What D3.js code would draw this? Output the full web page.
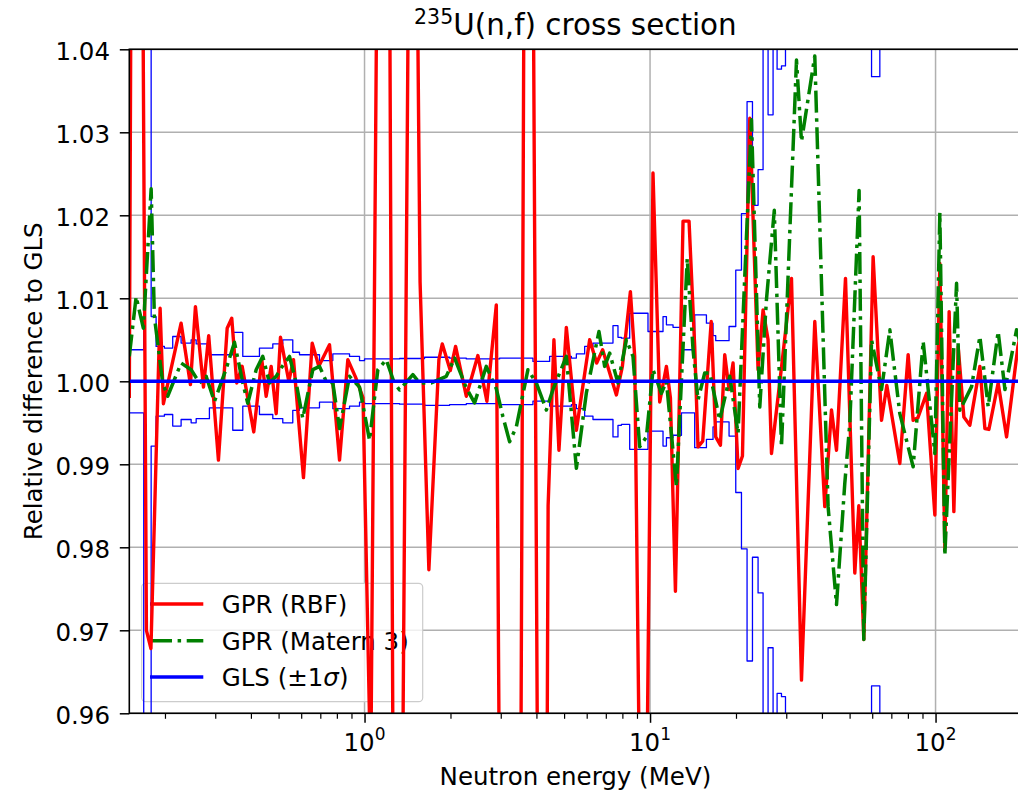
<!DOCTYPE html>
<html>
<head>
<meta charset="utf-8">
<script src="https://cdn.jsdelivr.net/npm/d3@7"></script>
<style>
  body { margin: 0; background: #fff; }
  svg { display: block; }
  text { font-family: "DejaVu Sans", sans-serif; fill: #000; }
</style>
</head>
<body>
<svg id="chart" width="1018" height="791"></svg>
<script>
// ---- GPR (RBF kernel): ratio to GLS vs neutron energy (MeV) ----
const rbfEnergy = [0.150, 0.1582, 0.1722, 0.1786, 0.1923, 0.1975, 0.2278, 0.2456, 0.2557, 0.2728,
  0.2846, 0.3078, 0.3303, 0.3427, 0.3568, 0.3727, 0.4093, 0.4366, 0.4523, 0.4710,
  0.4904, 0.5077, 0.5429, 0.5639, 0.6111, 0.6557, 0.6915, 0.7540, 0.8174, 0.8740,
  0.9300, 0.9880, 1.0513, 1.1808, 1.2947, 1.4707, 1.5650, 1.6802, 1.8216, 1.8723,
  1.9968, 2.0841, 2.2722, 2.4947, 2.6826, 2.8944, 3.3017, 3.7350, 4.2157, 4.3955,
  4.6060, 4.7965, 5.0913, 5.5206, 6.1451, 6.5027, 6.8241, 7.6234, 8.0003, 8.5344,
  8.8357, 9.4778, 10.241, 10.810, 11.412, 11.786, 12.271, 13.049, 13.696, 14.335,
  14.722, 15.295, 16.379, 16.985, 17.641, 18.264, 18.913, 19.533, 20.337, 21.070,
  22.352, 23.898, 24.882, 25.906, 26.627, 28.935, 31.289, 33.918, 37.759, 40.934,
  43.208, 44.988, 48.369, 52.140, 53.850, 56.067, 60.44, 64.68, 67.51, 74.97,
  80.17, 83.46, 86.69, 93.01, 99.44, 103.53, 107.79, 111.59, 115.91, 120.00,
  125.65, 131.88, 142.98, 148.87, 153.76, 165.69, 177.32, 194.3, 200];
const rbfRatio = [0.998, 1.20, 0.970, 0.9678, 1.0088, 0.9973, 1.0070, 0.9996, 1.0090, 0.9993,
  1.0055, 0.9905, 1.0064, 1.0076, 0.9998, 1.0018, 0.9939, 1.0026, 0.9982, 1.0018,
  0.9961, 1.0053, 1.0000, 1.0026, 0.9884, 1.0046, 1.0018, 1.0044, 0.9905, 1.0026,
  1.0005, 0.998, 0.952, 1.18, 0.85, 1.115, 1.012, 0.9773, 1.0026, 1.0045,
  1.0013, 1.0042, 0.9982, 1.0031, 0.9976, 1.0092, 0.70, 1.17, 0.83, 0.985,
  1.005, 0.9917, 1.0065, 0.9941, 1.005, 1.0022, 1.0038, 0.99835, 1.0018, 1.0108,
  1.003, 0.91, 1.0251, 0.9975, 1.0018, 0.998, 0.9747, 1.0193, 1.0193, 1.0042,
  0.9921, 0.9928, 1.0072, 0.9933, 0.9923, 1.0032, 0.999, 1.0022, 0.9895, 0.991,
  1.0317, 1.0014, 1.0086, 1.0050, 0.9913, 1.002, 1.0124, 0.9640, 1.0072, 0.9849,
  0.99655, 0.9917, 1.0124, 0.9769, 0.985, 0.9689, 1.015, 0.9953, 0.9995, 0.9901,
  1.0032, 0.9953, 0.9956, 0.99855, 0.9839, 1.0142, 0.9799, 1.0084, 0.9843, 1.0042,
  0.9957, 0.9947, 1.0018, 0.9943, 0.9942, 0.9998, 0.9933, 1.0042, 1.006];

// ---- GPR (Matern 3 kernel) ----
const maternEnergy = [0.150, 0.1585, 0.1680, 0.1789, 0.1836, 0.1964, 0.2044, 0.2278, 0.2470, 0.2640,
  0.2788, 0.2980, 0.3276, 0.3503, 0.3746, 0.3900, 0.4173, 0.4401, 0.4647, 0.4904,
  0.5106, 0.5460, 0.5763, 0.6077, 0.6590, 0.6954, 0.7340, 0.7744, 0.8174, 0.8860,
  0.9605, 1.0412, 1.1133, 1.1914, 1.2709, 1.3264, 1.4767, 1.5587, 1.7130, 1.9336,
  2.0674, 2.2722, 2.4292, 2.6696, 2.8944, 3.0527, 3.2223, 3.4010, 3.7350, 3.9969,
  4.3339, 4.5692, 5.0913, 5.5206, 5.9835, 6.6236, 6.9350, 7.2207, 7.7213, 8.2634,
  8.7152, 9.1989, 9.7097, 10.241, 10.959, 11.412, 12.370, 13.498, 14.146, 14.722,
  15.542, 16.183, 17.541, 19.020, 20.337, 22.658, 24.228, 25.567, 27.236, 28.865,
  32.577, 33.918, 37.759, 42.040, 44.988, 48.096, 50.076, 53.98, 56.067, 59.68,
  64.68, 69.16, 74.97, 83.46, 90.49, 99.44, 103.53, 107.79, 118.46, 121.66,
  133.70, 142.98, 152.89, 165.69, 174.99, 192.2, 200];
const maternRatio = [1.003, 1.0102, 1.0064, 1.0232, 1.0078, 0.9998, 0.9982, 1.0022, 1.0014, 0.9998,
  1.0006, 0.99755, 1.0015, 1.0047, 0.9998, 0.99735, 1.0014, 1.003, 0.9998, 1.0006,
  1.0016, 1.003, 0.9998, 0.99554, 1.0014, 1.0018, 1.0000, 0.9998, 0.9943, 1.0006,
  0.9993, 0.9929, 1.0014, 1.0026, 0.9998, 0.99895, 1.0008, 0.9998, 0.9998, 1.0006,
  1.0028, 0.9992, 0.9974, 1.0018, 0.9991, 0.99574, 0.99272, 0.9945, 1.0014, 0.9998,
  0.99654, 0.9990, 1.003, 0.98951, 0.9986, 1.006, 1.0018, 1.0034, 0.9998, 1.005,
  1.003, 0.9921, 0.9933, 1.0014, 0.99855, 1.0000, 0.9873, 1.0148, 1.0038, 0.99775,
  1.0010, 1.001, 0.99534, 1.0006, 0.99373, 1.0315, 0.9969, 1.0098, 1.0206, 0.9921,
  1.0387, 1.0289, 1.0392, 0.9849, 0.9731, 0.9877, 0.9949, 1.0230, 0.9689, 1.005,
  0.999, 1.0062, 0.9961, 0.9897, 1.0048, 0.9913, 1.0203, 0.9790, 1.0118, 0.9965,
  0.99936, 1.0054, 0.99694, 1.006, 0.999, 1.0062, 1.004];

// ---- GLS evaluation: group boundaries (MeV) and relative 1-sigma uncertainty ----
const glsEdges = [0.15, 0.1685, 0.1789, 0.1862, 0.1991, 0.2129, 0.2278, 0.2470, 0.2572, 0.2862,
  0.3455, 0.3746, 0.4285, 0.4772, 0.5172, 0.5606, 0.5918, 0.6954, 0.7744, 0.8860,
  0.9605, 1.0, 1.3264, 1.6229, 1.9862, 2.2722, 2.5973, 2.9724, 3.8888, 4.4490,
  5.3023, 5.5206, 5.9021, 6.3106, 7.4163, 7.7213, 7.9358, 8.4862, 9.8361, 11.103,
  11.412, 12.036, 12.882, 14.335, 15.757, 16.618, 16.985, 18.913, 19.963, 20.902,
  21.868, 22.842, 23.898, 24.882, 25.906, 26.973, 27.860, 28.865, 29.812, 59.68,
  63.80, 200];
const glsSigma = [0.0038, 0.06, 0.0078, 0.0042, 0.0040, 0.0054, 0.0046, 0.0050, 0.0045, 0.0032,
  0.0059, 0.0030, 0.0040, 0.0045, 0.0050, 0.0035, 0.0032, 0.0025, 0.0033, 0.0030,
  0.0025, 0.0027, 0.00275, 0.0029, 0.0028, 0.0027, 0.0027, 0.0028, 0.0024, 0.0030,
  0.0028, 0.0033, 0.0042, 0.0046, 0.0067, 0.0053, 0.0052, 0.0082, 0.0060, 0.0078,
  0.0068, 0.0065, 0.0038, 0.0080, 0.0070, 0.0055, 0.0049, 0.0066, 0.0134, 0.0202,
  0.0337, 0.0212, 0.0255, 0.06, 0.0321, 0.06, 0.0376, 0.0380, 0.06, 0.0367,
  0.06];

// ---- axes ----
const energyDomain = [0.15, 200];
const ratioDomain = [0.96, 1.04];
const yTicks = [0.96, 0.97, 0.98, 0.99, 1.00, 1.01, 1.02, 1.03, 1.04];
const xMajorTicks = [1, 10, 100];
const xMinorTicks = [0.2, 0.3, 0.4, 0.5, 0.6, 0.7, 0.8, 0.9, 2, 3, 4, 5, 6, 7, 8, 9,
  20, 30, 40, 50, 60, 70, 80, 90, 200];
const xTickExponents = ["0", "1", "2"];

const titleText = "U(n,f) cross section";
const titleIsotope = "235";
const xLabel = "Neutron energy (MeV)";
const yLabel = "Relative difference to GLS";
const legendLabels = ["GPR (RBF)", "GPR (Matern 3)", "GLS (\u00b11"];

// ---- layout ----
const plot = { left: 129.3, top: 49.3, right: 1021.5, bottom: 713.3 };
const baseFont = 24.5;
const colors = { rbf: "#ff0000", matern: "#008000", gls: "#0000ff", grid: "#b0b0b0" };

const svg = d3.select("#chart");
const x = d3.scaleLog().domain(energyDomain).range([plot.left, plot.right]);
const y = d3.scaleLinear().domain(ratioDomain).range([plot.bottom, plot.top]);

svg.append("defs").append("clipPath").attr("id", "plotClip")
  .append("rect")
  .attr("x", plot.left).attr("y", plot.top)
  .attr("width", plot.right - plot.left).attr("height", plot.bottom - plot.top);

// grid
const grid = svg.append("g").attr("stroke", colors.grid).attr("stroke-width", 1.5);
grid.selectAll("line.h").data(yTicks).join("line").attr("class", "h")
  .attr("x1", plot.left).attr("x2", plot.right)
  .attr("y1", d => y(d)).attr("y2", d => y(d));
grid.selectAll("line.v").data(xMajorTicks).join("line").attr("class", "v")
  .attr("x1", d => x(d)).attr("x2", d => x(d))
  .attr("y1", plot.top).attr("y2", plot.bottom);

// legend (drawn below the curves)
const legend = svg.append("g");
legend.append("rect")
  .attr("x", 141.7).attr("y", 583.3).attr("width", 281).attr("height", 118.4)
  .attr("rx", 4).attr("fill", "#fff").attr("fill-opacity", 0.8)
  .attr("stroke", "#cccccc").attr("stroke-width", 1.2);
const legendRows = [
  { label: legendLabels[0], color: colors.rbf, dash: null, width: 3.4, y: 604 },
  { label: legendLabels[1], color: colors.matern, dash: "22,5.6,3.5,5.6", width: 3.5, y: 640.7 },
  { label: legendLabels[2], color: colors.gls, dash: null, width: 3.6, y: 677 }
];
legendRows.forEach((r, i) => {
  legend.append("line")
    .attr("x1", 150).attr("x2", 203.3).attr("y1", r.y).attr("y2", r.y)
    .attr("stroke", r.color).attr("stroke-width", r.width)
    .attr("stroke-dasharray", r.dash);
  const t = legend.append("text")
    .attr("x", 221.7).attr("y", r.y).attr("dy", "0.36em")
    .attr("font-size", baseFont).text(r.label);
  if (i === 2) {
    t.append("tspan").attr("font-style", "italic").text("\u03c3");
    t.append("tspan").text(")");
  }
});

// curves
const curves = svg.append("g").attr("clip-path", "url(#plotClip)")
  .attr("fill", "none").attr("stroke-linejoin", "round");

const stepLine = d3.line().curve(d3.curveStepAfter).x(d => x(d[0])).y(d => y(d[1]));
const nBins = glsSigma.length;
const upper = glsEdges.map((e, i) => [e, 1 + glsSigma[Math.min(i, nBins - 1)]]);
const lower = glsEdges.map((e, i) => [e, 1 - glsSigma[Math.min(i, nBins - 1)]]);
[upper, lower].forEach(pts => {
  curves.append("path").attr("d", stepLine(pts))
    .attr("stroke", colors.gls).attr("stroke-width", 1.3);
});

const line = d3.line().x(d => x(d[0])).y(d => y(d[1]));
curves.append("path")
  .attr("d", line(rbfEnergy.map((e, i) => [e, rbfRatio[i]])))
  .attr("stroke", colors.rbf).attr("stroke-width", 3.4);
curves.append("path")
  .attr("d", line(maternEnergy.map((e, i) => [e, maternRatio[i]])))
  .attr("stroke", colors.matern).attr("stroke-width", 3.5)
  .attr("stroke-dasharray", "22,5.6,3.5,5.6");
curves.append("path")
  .attr("d", line([[glsEdges[0], 1], [glsEdges[glsEdges.length - 1], 1]]))
  .attr("stroke", colors.gls).attr("stroke-width", 3.6);

// axes
const yAxis = d3.axisLeft(y).tickValues(yTicks).tickFormat(d3.format(".2f"))
  .tickSize(9.5).tickPadding(9.8).tickSizeOuter(0);
const gy = svg.append("g").attr("transform", `translate(${plot.left},0)`).call(yAxis);
gy.selectAll("text").attr("font-size", baseFont).attr("dy", "0.42em")
  .style("font-family", "DejaVu Sans, sans-serif");
gy.selectAll("line").attr("stroke-width", 1.5);
gy.select(".domain").remove();

const xAxisMinor = d3.axisBottom(x).tickValues(xMinorTicks).tickFormat("").tickSize(5.5).tickSizeOuter(0);
const gxm = svg.append("g").attr("transform", `translate(0,${plot.bottom})`).call(xAxisMinor);
gxm.selectAll("line").attr("stroke-width", 1.2);
gxm.select(".domain").remove();

const xAxisMajor = d3.axisBottom(x).tickValues(xMajorTicks).tickFormat("").tickSize(9.5).tickSizeOuter(0);
const gx = svg.append("g").attr("transform", `translate(0,${plot.bottom})`).call(xAxisMajor);
gx.selectAll("line").attr("stroke-width", 1.5);
gx.select(".domain").remove();

const xLabels = svg.append("g");
xMajorTicks.forEach((v, i) => {
  const t = xLabels.append("text").attr("x", x(v)).attr("y", 750.5)
    .attr("text-anchor", "middle").attr("font-size", baseFont);
  t.append("tspan").text("10");
  t.append("tspan").attr("font-size", 17).attr("dy", -10.5).text(xTickExponents[i]);
});

// frame
svg.append("rect")
  .attr("x", plot.left).attr("y", plot.top)
  .attr("width", plot.right - plot.left).attr("height", plot.bottom - plot.top)
  .attr("fill", "none").attr("stroke", "#000").attr("stroke-width", 1.6);

// labels
svg.append("text").attr("x", (plot.left + plot.right) / 2).attr("y", 785)
  .attr("text-anchor", "middle").attr("font-size", baseFont).text(xLabel);
svg.append("text")
  .attr("transform", `translate(42,${(plot.top + plot.bottom) / 2}) rotate(-90)`)
  .attr("text-anchor", "middle").attr("font-size", baseFont).text(yLabel);

const title = svg.append("text").attr("x", (plot.left + plot.right) / 2).attr("y", 35)
  .attr("text-anchor", "middle").attr("font-size", 29.4);
title.append("tspan").attr("font-size", 20.5).attr("dy", -11).text(titleIsotope);
title.append("tspan").attr("dy", 11).text(titleText);
</script>
</body>
</html>
